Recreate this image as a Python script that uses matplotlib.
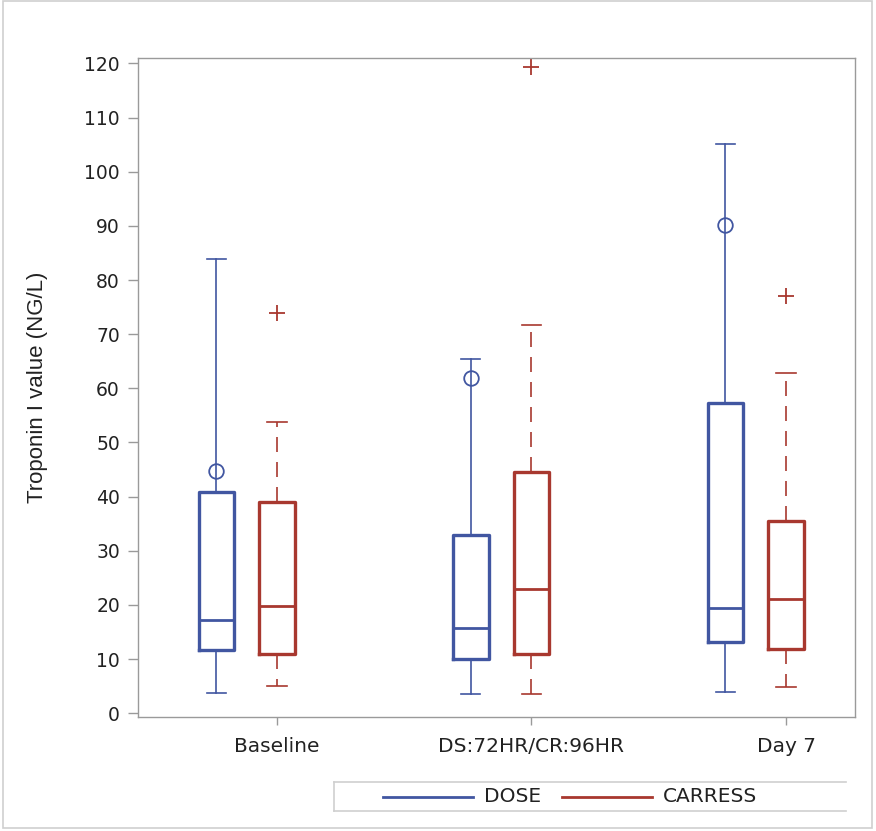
import matplotlib
matplotlib.use("Agg")
import matplotlib.pyplot as plt
from matplotlib.lines import Line2D
from matplotlib.patches import Rectangle

# ---- data ----
categories = ["Baseline", "DS:72HR/CR:96HR", "Day 7"]
series = ["DOSE", "CARRESS"]

dose_whislo = [3.7, 3.6, 3.9]
dose_q1 = [11.6, 10.0, 13.2]
dose_med = [17.3, 15.8, 19.5]
dose_q3 = [40.9, 33.0, 57.2]
dose_whishi = [83.8, 65.5, 105.1]
dose_markers = [[44.7], [62.0], [90.1]]

carress_whislo = [5.1, 3.6, 4.9]
carress_q1 = [11.0, 11.0, 11.8]
carress_med = [19.8, 23.0, 21.1]
carress_q3 = [39.0, 44.5, 35.5]
carress_whishi = [53.7, 71.7, 62.8]
carress_markers = [[74.0], [119.4], [77.0]]

BLUE = "#4156A1"
RED = "#A8382F"
GRAY = "#9a9a9a"
TXT = "#222222"

W, H = 876, 831
fig = plt.figure(figsize=(W / 100, H / 100), dpi=100)
fig.patch.set_facecolor("white")

# outer border
fig.patches.append(Rectangle((3 / W, 1 - 828 / H), 869 / W, 827 / H,
                             transform=fig.transFigure, fill=False,
                             edgecolor="#cfcfcf", linewidth=1.2))

ax = fig.add_axes([138 / W, 1 - 716.5 / H, (855 - 138) / W, (716.5 - 58) / H])

offset = 0.238
bw = 0.14
capw = 0.075


def stats(wlo, q1, med, q3, whi, fl):
    return [dict(whislo=a, q1=b, med=c, q3=d, whishi=e, fliers=f)
            for a, b, c, d, e, f in zip(wlo, q1, med, q3, whi, fl)]


pos = list(range(len(categories)))
dose_stats = stats(dose_whislo, dose_q1, dose_med, dose_q3, dose_whishi, dose_markers)
car_stats = stats(carress_whislo, carress_q1, carress_med, carress_q3, carress_whishi, carress_markers)

ax.bxp(dose_stats, positions=[p - offset for p in pos], widths=bw,
       capwidths=capw, showfliers=True,
       boxprops=dict(color=BLUE, linewidth=2.4),
       medianprops=dict(color=BLUE, linewidth=2.0),
       whiskerprops=dict(color=BLUE, linewidth=1.2),
       capprops=dict(color=BLUE, linewidth=1.2),
       flierprops=dict(marker="o", markersize=10.5, markerfacecolor="none",
                       markeredgecolor=BLUE, markeredgewidth=1.3))

ax.bxp(car_stats, positions=pos, widths=bw,
       capwidths=capw, showfliers=True,
       boxprops=dict(color=RED, linewidth=2.4),
       medianprops=dict(color=RED, linewidth=2.0),
       whiskerprops=dict(color=RED, linewidth=1.2, linestyle=(0, (9, 6))),
       capprops=dict(color=RED, linewidth=1.2),
       flierprops=dict(marker="+", markersize=12,
                       markeredgecolor=RED, markeredgewidth=1.3))

ax.set_xlim(-0.546, 2.271)
ax.set_ylim(-0.6, 121.0)
ax.set_yticks(range(0, 121, 10))
ax.set_xticks(pos)
ax.set_xticklabels(categories)

for s in ax.spines.values():
    s.set_color(GRAY)
    s.set_linewidth(1.0)

ax.tick_params(axis="y", length=7, width=1, color=GRAY, pad=6,
               labelsize=13.5, labelcolor=TXT)
ax.tick_params(axis="x", length=6, width=1, color=GRAY, pad=9,
               labelsize=14.5, labelcolor=TXT)
for lab in ax.get_yticklabels() + ax.get_xticklabels():
    lab.set_fontfamily("DejaVu Sans")

ax.set_ylabel("Troponin I value (NG/L)", fontsize=16, color=TXT,
              fontfamily="Liberation Sans")
ax.yaxis.set_label_coords(-0.1255, 0.5)

# legend (manual, SAS style)
def fx(px):
    return px / W


def fy(py):
    return 1 - py / H


fig.lines.append(Line2D([fx(334), fx(334)], [fy(782), fy(811)], transform=fig.transFigure,
                        color="#cfcfcf", linewidth=1.2))
fig.lines.append(Line2D([fx(334), fx(846)], [fy(782), fy(782)], transform=fig.transFigure,
                        color="#cfcfcf", linewidth=1.2))
fig.lines.append(Line2D([fx(334), fx(846)], [fy(811), fy(811)], transform=fig.transFigure,
                        color="#cfcfcf", linewidth=1.2))

fig.lines.append(Line2D([fx(383), fx(473)], [fy(797), fy(797)], transform=fig.transFigure,
                        color=BLUE, linewidth=2.0))
fig.text(fx(484), fy(797), series[0], fontsize=14.5, color=TXT, va="center",
         ha="left", fontfamily="DejaVu Sans")
fig.lines.append(Line2D([fx(562), fx(652)], [fy(797), fy(797)], transform=fig.transFigure,
                        color=RED, linewidth=2.0))
fig.text(fx(663), fy(797), series[1], fontsize=14.5, color=TXT, va="center",
         ha="left", fontfamily="DejaVu Sans")

fig.savefig("out.png", dpi=100)
